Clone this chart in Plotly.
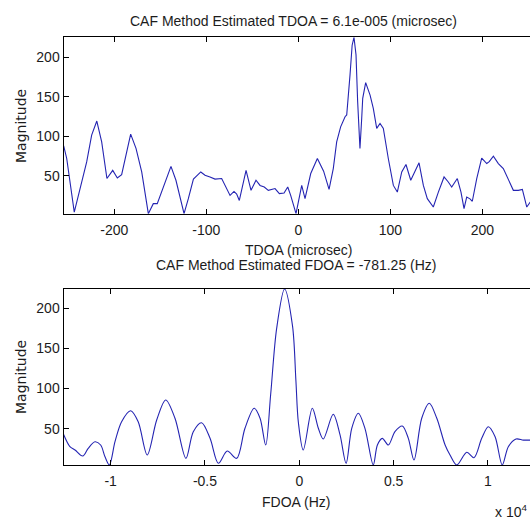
import plotly.graph_objects as go

# ---- TDOA cross-ambiguity slice (microseconds vs magnitude) ----
tdoa_us = [-255, -251.7, -243.5, -237, -230, -224.6, -219, -213.7, -208, -201.7,
           -196.7, -192, -186.5, -182.2, -176.4, -170.2, -163, -157.6, -153.3, -146.7,
           -138.4, -133, -128.6, -124.2, -119.6, -114, -106, -101.4, -96, -90.5,
           -83.3, -79.7, -74.2, -69.9, -67, -64.1, -56.8, -51.4, -46, -41.6,
           -37, -32.6, -25.3, -20.6, -15.5, -11.5, -8.3, -2.5, 3.7, 7.3,
           13.5, 20.7, 25.4, 27.5, 33.4, 38, 41.7, 46, 50.8, 52.6,
           56.2, 58.5, 60.5, 62.7, 64.5, 67, 68.9, 70, 73.2, 78,
           81.5, 85.2, 88.8, 92.4, 97.8, 103.3, 107.6, 112.4, 117, 122.2,
           131.2, 135.9, 140.2, 146.7, 152.2, 158.4, 163, 166.7, 172.8, 176.8,
           180.1, 183, 186.6, 189.1, 193.9, 199.3, 204.8, 207.5, 212, 217.4,
           222.8, 228.3, 233.7, 239.1, 243.5, 248.3, 251.8, 255]
tdoa_mag = [88, 72, 4.3, 34, 67.7, 101.5, 119.3, 93, 46.7, 57,
            47.4, 51.7, 82.5, 102.8, 84.7, 55, 2.3, 15, 15, 36,
            62, 44.5, 21.3, 2.3, 21, 46, 55, 50.8, 48.6, 46,
            46.7, 39, 25.4, 30.4, 27, 19, 57, 31.8, 44.5, 38,
            36, 31.8, 34, 27.6, 28.5, 36, 25.5, 2.3, 38, 21.3,
            53, 72, 59.3, 56, 33, 59.3, 93, 112, 124.7, 127,
            177.6, 215, 225, 203, 143.7, 84.7, 122.7, 148, 167.8, 152,
            135.3, 110, 116.3, 110, 72, 38, 29.6, 55, 64.4, 44.5,
            66.5, 38, 21.3, 10.7, 29.6, 48.7, 42.3, 36, 46.7, 29.6,
            8.6, 23.3, 21, 18, 46.7, 72.6, 65.6, 68, 74.9, 65.6,
            59.3, 44.5, 31.8, 31.8, 33, 10.7, 17, 22]

# ---- FDOA cross-ambiguity slice (Hz vs magnitude) ----
fdoa_hz = [-12500, -12160, -11890, -11480, -11190, -10830, -10530, -10300, -10070, -9770,
           -9420, -8940, -8540, -8060, -7560, -7080, -6590, -6010, -5620, -5180,
           -4730, -4290, -3820, -3320, -2880, -2390, -2080, -1780, -1520, -1200,
           -781.25, -360, -180, -50, 210, 690, 1010, 1270, 1800, 2160,
           2480, 2780, 3130, 3480, 3920, 4140, 4400, 4720, 5070, 5460,
           5780, 6080, 6490, 6890, 7290, 7730, 7990, 8350, 8880, 9260,
           9670, 10020, 10380, 10760, 11080, 11490, 11880, 12230, 12500]
fdoa_mag = [43, 27.6, 23.5, 16, 25.6, 33.8, 29.7, 15, 4.8, 33.8,
            58.7, 72.4, 58.7, 17.3, 60.8, 85.8, 63, 13.1, 46.3, 57.5,
            38, 6.9, 22.2, 13.1, 50.5, 75.4, 63, 29.7, 92, 175,
            224, 178, 110, 58, 23.5, 75.4, 50.5, 37.2, 68, 42.2,
            6.9, 50.5, 69.2, 50.5, 4.8, 29.7, 38, 29.7, 46.3, 53.4,
            38, 11, 63, 81.7, 63, 29.7, 17.3, 4.8, 20.6, 13.9,
            38, 52.5, 40, 4.8, 27.6, 37.2, 35.8, 35.8, 35.5]

tdoa_ticks = [-200, -100, 0, 100, 200]
tdoa_ticktext = ["-200", "-100", "0", "100", "200"]
fdoa_ticks = [-10000, -5000, 0, 5000, 10000]
fdoa_ticktext = ["-1", "-0.5", "0", "0.5", "1"]
mag_ticks = [50, 100, 150, 200]

W, H = 530, 520
FONT = "Liberation Sans"
TXT = "#1c1c1c"
LINE = "rgb(36,36,178)"


def px_x(p):
    return p / W


def px_y(p):
    return 1 - p / H


fig = go.Figure()
fig.add_trace(go.Scatter(x=tdoa_us, y=tdoa_mag, mode="lines", xaxis="x", yaxis="y",
                         line=dict(color=LINE, width=1.1), showlegend=False))
fig.add_trace(go.Scatter(x=fdoa_hz, y=fdoa_mag, mode="lines", xaxis="x2", yaxis="y2",
                         line=dict(color=LINE, width=1.1, shape="spline", smoothing=0.9),
                         showlegend=False))

axis_common = dict(showline=True, linecolor="black", linewidth=1, ticks="inside",
                   ticklen=5, tickcolor="black", showgrid=False, zeroline=False,
                   tickfont=dict(family=FONT, size=14, color=TXT))

x_dom = [px_x(63.5), 1.0]
top_dom = [px_y(213.7), px_y(37.3)]
bot_dom = [px_y(465), px_y(289)]

fig.update_layout(
    width=W, height=H, autosize=False,
    margin=dict(l=0, r=0, t=0, b=0),
    paper_bgcolor="white", plot_bgcolor="white",
    xaxis=dict(domain=x_dom, range=[-255.2, 251.8], anchor="y", mirror="ticks",
               tickvals=tdoa_ticks, ticktext=tdoa_ticktext, ticklabelstandoff=3,
               **axis_common),
    yaxis=dict(domain=top_dom, range=[min(tdoa_mag), max(tdoa_mag)], anchor="x",
               tickvals=mag_ticks, **axis_common),
    yaxis3=dict(overlaying="y", side="right", anchor="x", range=[min(tdoa_mag), max(tdoa_mag)],
                tickvals=mag_ticks, showticklabels=False, ticks="inside", ticklen=5,
                tickcolor="black", showline=False, showgrid=False, zeroline=False),
    xaxis2=dict(domain=x_dom, range=[-12500, 12230], anchor="y2", mirror="ticks",
                tickvals=fdoa_ticks, ticktext=fdoa_ticktext, ticklabelstandoff=3,
                **axis_common),
    yaxis2=dict(domain=bot_dom, range=[min(fdoa_mag), max(fdoa_mag)], anchor="x2",
                tickvals=mag_ticks, **axis_common),
    yaxis4=dict(overlaying="y2", side="right", anchor="x2", range=[min(fdoa_mag), max(fdoa_mag)],
                tickvals=mag_ticks, showticklabels=False, ticks="inside", ticklen=5,
                tickcolor="black", showline=False, showgrid=False, zeroline=False),
)


def label(text, x, y, angle=0, family=FONT, size=14, xanchor="center"):
    fig.add_annotation(text=text, xref="paper", yref="paper", x=px_x(x), y=px_y(y),
                       xanchor=xanchor, yanchor="middle", showarrow=False, textangle=angle,
                       font=dict(family=family, size=size, color=TXT))


label("CAF Method Estimated TDOA = 6.1e-005 (microsec)", 293.5, 21)
label("TDOA (microsec)", 298, 250)
label("CAF Method Estimated FDOA = -781.25 (Hz)", 296, 264.5)
label("FDOA (Hz)", 296, 501.5)
label("Magnitude", 21, 126, angle=-90, family="DejaVu Sans")
label("Magnitude", 21, 377, angle=-90, family="DejaVu Sans")
label("x 10<sup>4</sup>", 529, 511, xanchor="right")

fig.write_html("out.html")
